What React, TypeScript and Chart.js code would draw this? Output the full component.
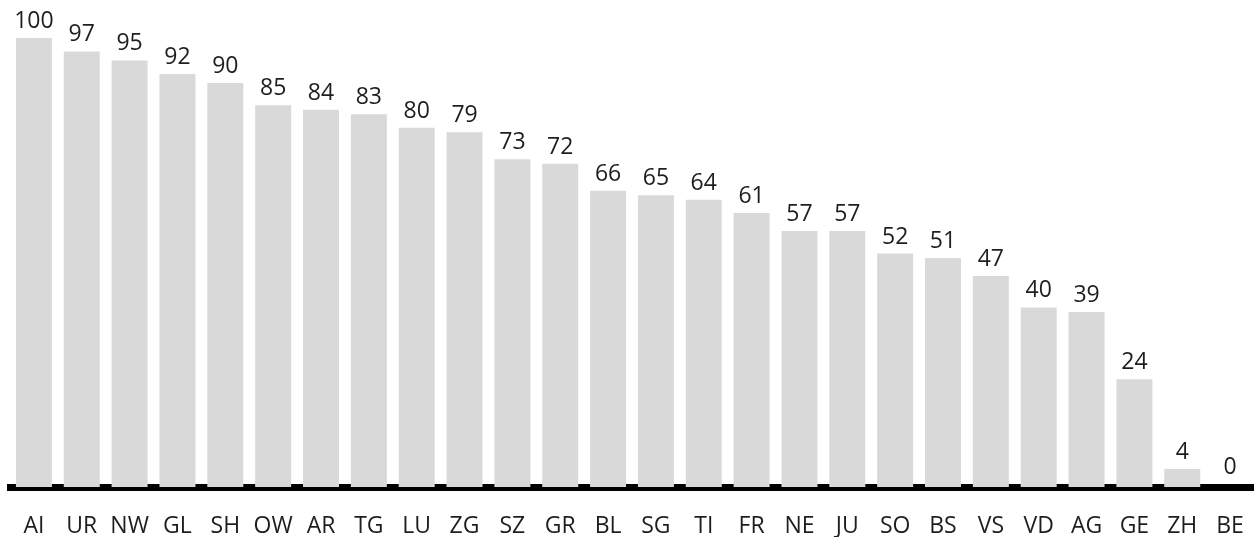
import React, { useEffect, useRef } from "react";
import { Chart, registerables } from "chart.js";

Chart.register(...registerables);

const cantons = ["AI","UR","NW","GL","SH","OW","AR","TG","LU","ZG","SZ","GR","BL","SG","TI","FR","NE","JU","SO","BS","VS","VD","AG","GE","ZH","BE"];
const values = [100,97,95,92,90,85,84,83,80,79,73,72,66,65,64,61,57,57,52,51,47,40,39,24,4,0];

const FONT = "'Open Sans', 'Noto Sans', sans-serif";
const TEXT = "#1e1e1e";

const valueLabels = {
  id: "valueLabels",
  afterDatasetsDraw(chart: any) {
    const ctx = chart.ctx;
    const meta = chart.getDatasetMeta(0);
    ctx.save();
    ctx.font = `23px ${FONT}`;
    ctx.fillStyle = TEXT;
    ctx.textAlign = "center";
    ctx.textBaseline = "alphabetic";
    meta.data.forEach((bar: any, i: number) => {
      ctx.fillText(String(values[i]), bar.x, Math.min(bar.y, chart.chartArea.bottom - 3.5) - 10);
    });
    ctx.restore();
  },
};

export default function App() {
  const ref = useRef<HTMLCanvasElement>(null);
  useEffect(() => {
    const chart = new Chart(ref.current!, {
      type: "bar",
      data: {
        labels: cantons,
        datasets: [
          {
            data: values,
            backgroundColor: "#d9d9d9",
            borderWidth: 0,
            categoryPercentage: 0.752,
            barPercentage: 1,
          },
        ],
      },
      options: {
        animation: false,
        responsive: false,
        layout: { padding: { top: 38, left: 10, right: 0, bottom: 0 } },
        plugins: { legend: { display: false }, tooltip: { enabled: false } },
        scales: {
          x: {
            grid: { display: false, drawTicks: true, tickLength: 26 },
            border: { display: true, color: "#000", width: 7 },
            ticks: { color: TEXT, font: { family: FONT, size: 23 }, padding: 0, maxRotation: 0, autoSkip: false },
            afterFit: (scale: any) => {
              scale.height = 50;
            },
          },
          y: { display: false, min: 0, max: 100 },
        },
      },
      plugins: [valueLabels],
    });
    return () => chart.destroy();
  }, []);
  return (
    <div style={{ position: "fixed", left: 0, top: 0, width: 1254, height: 537, overflow: "hidden", background: "#fff" }}>
      <canvas ref={ref} width={1254} height={537} />
    </div>
  );
}
